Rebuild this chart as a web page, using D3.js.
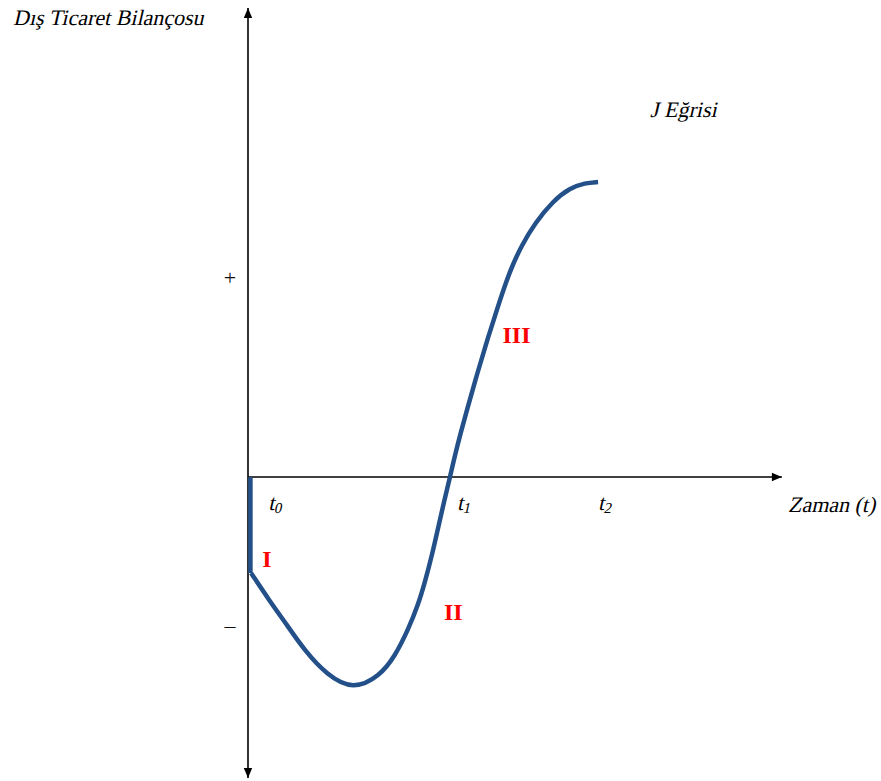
<!DOCTYPE html>
<html>
<head>
<meta charset="utf-8">
<script src="https://cdn.jsdelivr.net/npm/d3@7"></script>
<style>
  body { margin: 0; background: #fff; }
  text { font-family: "Liberation Serif", "Times New Roman", serif; }
</style>
</head>
<body>
<div id="chart"></div>
<script>
// zaman (t) ve dis ticaret bilancosu, birimler keyfi
var segmentI = [
  { t: 0.012, b: 0 },
  { t: 0.012, b: -0.96 }
]

var jCurve = [
  { t: 0.015, b: -0.96 },
  { t: 0.104, b: -1.23 },
  { t: 0.193, b: -1.48 },
  { t: 0.282, b: -1.74 },
  { t: 0.391, b: -1.98 },
  { t: 0.520, b: -2.13 },
  { t: 0.653, b: -1.99 },
  { t: 0.728, b: -1.79 },
  { t: 0.792, b: -1.53 },
  { t: 0.842, b: -1.28 },
  { t: 0.876, b: -1.05 },
  { t: 0.911, b: -0.78 },
  { t: 0.941, b: -0.51 },
  { t: 0.970, b: -0.25 },
  { t: 1.000, b: 0 },
  { t: 1.025, b: 0.22 },
  { t: 1.054, b: 0.45 },
  { t: 1.084, b: 0.67 },
  { t: 1.134, b: 1.03 },
  { t: 1.183, b: 1.36 },
  { t: 1.233, b: 1.68 },
  { t: 1.297, b: 2.07 },
  { t: 1.356, b: 2.32 },
  { t: 1.421, b: 2.54 },
  { t: 1.510, b: 2.76 },
  { t: 1.594, b: 2.89 },
  { t: 1.668, b: 2.94 },
  { t: 1.733, b: 2.95 }
]

var timeLabels = [
  { sub: "0", t: 0.10 },
  { sub: "1", t: 1.035 },
  { sub: "2", t: 1.733 }
]

var signTicks = [
  { label: "+", b: 1.99 },
  { label: "\u2013", b: -1.49 }
]

var phaseLabels = [
  { label: "I", t: 0.07, b: -0.9 },
  { label: "II", t: 0.97, b: -1.43 },
  { label: "III", t: 1.26, b: 1.34 }
]

var yTitle = "Dış Ticaret Bilançosu"
var xTitle = "Zaman (t)"
var curveTitle = "J Eğrisi"

var width = 881, height = 781
var serif = "Liberation Serif, Times New Roman, serif"

var x = d3.scaleLinear().domain([0, 1]).range([248, 450])
var y = d3.scaleLinear().domain([-3, 3]).range([777, 177])

var svg = d3.select("#chart").append("svg")
  .attr("width", width)
  .attr("height", height)

var defs = svg.append("defs")
defs.append("marker")
  .attr("id", "arrow")
  .attr("viewBox", "0 0 10 10")
  .attr("refX", 10).attr("refY", 5)
  .attr("markerWidth", 11).attr("markerHeight", 10)
  .attr("markerUnits", "userSpaceOnUse")
  .attr("orient", "auto-start-reverse")
  .append("path")
  .attr("d", "M0,0.8 L10,5 L0,9.2 Z")
  .attr("fill", "#000")

// eksenler
svg.append("line")
  .attr("x1", x(0)).attr("x2", x(0))
  .attr("y1", y(-3.01)).attr("y2", y(4.69))
  .attr("stroke", "#000").attr("stroke-width", 1.6)
  .attr("marker-start", "url(#arrow)")
  .attr("marker-end", "url(#arrow)")

svg.append("line")
  .attr("x1", x(0)).attr("x2", x(2.643))
  .attr("y1", y(0)).attr("y2", y(0))
  .attr("stroke", "#000").attr("stroke-width", 1.6)
  .attr("marker-end", "url(#arrow)")

var line = d3.line()
  .x(function(d){ return x(d.t) })
  .y(function(d){ return y(d.b) })

var blue = "#24508a"

svg.append("path")
  .datum(segmentI)
  .attr("d", line)
  .attr("fill", "none")
  .attr("stroke", blue)
  .attr("stroke-width", 4.5)

svg.append("path")
  .datum(jCurve)
  .attr("d", line.curve(d3.curveBasis))
  .attr("fill", "none")
  .attr("stroke", blue)
  .attr("stroke-width", 4.5)

// italik serif yoksa skew ile
function italic(sel, px, py){
  return sel.attr("transform", "translate(" + px + "," + py + ") skewX(-13)")
    .attr("font-family", serif)
}

italic(svg.append("text"), 13, 25)
  .attr("font-size", 22)
  .text(yTitle)

italic(svg.append("text"), 788, 512)
  .attr("font-size", 22)
  .text(xTitle)

italic(svg.append("text"), 650, 117)
  .attr("font-size", 22)
  .text(curveTitle)

var tl = svg.selectAll(".tlabel").data(timeLabels).enter()
  .append("text")
  .attr("class", "tlabel")
  .attr("transform", function(d){ return "translate(" + x(d.t) + ",510) skewX(-13)" })
  .attr("font-family", serif)
  .attr("font-size", 22)
tl.append("tspan").text("t")
tl.append("tspan")
  .attr("font-size", 15).attr("dy", 3)
  .text(function(d){ return d.sub })

svg.selectAll(".sign").data(signTicks).enter()
  .append("text")
  .attr("class", "sign")
  .attr("x", 230)
  .attr("y", function(d){ return y(d.b) })
  .attr("dy", "0.33em")
  .attr("text-anchor", "middle")
  .attr("font-family", serif)
  .attr("font-size", 22)
  .attr("fill", "#111")
  .text(function(d){ return d.label })

svg.selectAll(".phase").data(phaseLabels).enter()
  .append("text")
  .attr("class", "phase")
  .attr("x", function(d){ return x(d.t) })
  .attr("y", function(d){ return y(d.b) })
  .attr("font-family", serif)
  .attr("font-size", 24).attr("font-weight", "bold")
  .attr("fill", "#ff0000")
  .text(function(d){ return d.label })
</script>
</body>
</html>
